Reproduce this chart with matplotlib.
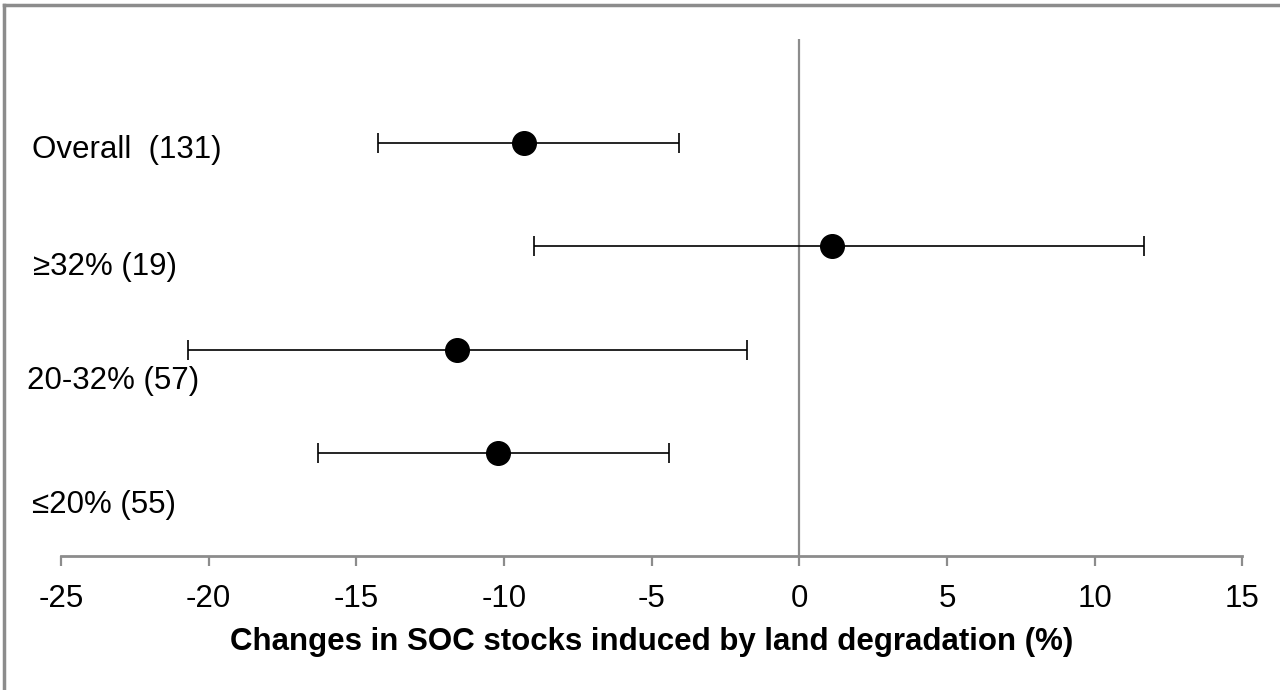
import matplotlib
matplotlib.use("Agg")
import matplotlib.pyplot as plt
from matplotlib.lines import Line2D
from matplotlib import transforms

plt.rcParams['font.family'] = ['Liberation Sans', 'DejaVu Sans']

# Data (bottom to top)
categories = ["≤20% (55)", "20-32% (57)", "≥32% (19)", "Overall  (131)"]
means = [-10.22, -11.58, 1.12, -9.31]
lower = [-16.29, -20.69, -9.0, -14.27]
upper = [-4.43, -1.76, 11.68, -4.08]
xticks = [-25, -20, -15, -10, -5, 0, 5, 10, 15]
xlabel = "Changes in SOC stocks induced by land degradation (%)"

# layout: label vertical positions (data units) and left edges (fig fraction)
label_y = [0.50, 1.70, 2.80, 3.93]
label_x = [0.025, 0.021, 0.026, 0.025]

fig = plt.figure(figsize=(12.8, 6.9), dpi=100)
ax = fig.add_axes([0.04766, 0.1935, 0.9230, 0.7493])

ypos = list(range(1, len(categories) + 1))
xerr = [[m - l for m, l in zip(means, lower)], [u - m for m, u in zip(means, upper)]]

ax.axvline(0, color='#8c8c8c', lw=1.6, zorder=1)
ax.errorbar(means, ypos, xerr=xerr, fmt='o', color='black', ecolor='black',
            elinewidth=1.2, capsize=7, capthick=1.2, markersize=17, zorder=3)

ax.set_xlim(-25, 15)
ax.set_ylim(0, 5)
ax.set_xticks(xticks)
ax.set_xticklabels([str(t) for t in xticks], fontsize=22.5)
ax.set_yticks([])
for s in ['top', 'right', 'left']:
    ax.spines[s].set_visible(False)
ax.spines['bottom'].set_color('#8c8c8c')
ax.spines['bottom'].set_linewidth(2)
ax.tick_params(axis='x', direction='out', length=7, width=1.6, color='#8c8c8c', pad=13)
ax.set_xlabel(xlabel, fontsize=22.5, fontweight='bold', labelpad=9)

trans = transforms.blended_transform_factory(fig.transFigure, ax.transData)
for cat, ly, lx in zip(categories, label_y, label_x):
    ax.text(lx, ly, cat, transform=trans, fontsize=22.5, ha='left', va='center', clip_on=False)

# outer frame (left and top only visible)
fig.add_artist(Line2D([0.0032, 0.0032], [0, 0.9925], transform=fig.transFigure, color='#8c8c8c', lw=2.5))
fig.add_artist(Line2D([0.0032, 1.0], [0.9925, 0.9925], transform=fig.transFigure, color='#8c8c8c', lw=2.5))

fig.savefig("out.png", dpi=100)
